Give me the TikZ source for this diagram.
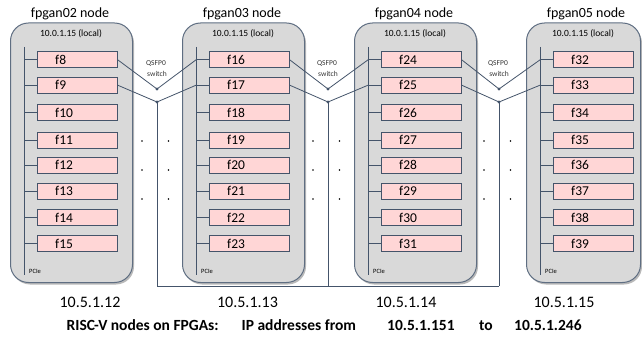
\documentclass[tikz,border=0pt]{standalone}
\usepackage{fontspec}
\setmainfont{Carlito}
\usetikzlibrary{shapes.misc,shadows}
\definecolor{nodefill}{RGB}{217,217,217}
\definecolor{nodeline}{RGB}{95,110,130}
\definecolor{boxfill}{RGB}{255,214,214}
\definecolor{boxline}{RGB}{68,84,106}
\definecolor{wirecol}{RGB}{68,84,106}
\begin{document}
\begin{tikzpicture}[x=1pt,y=-1pt,
  hostnode/.style={draw=nodeline, line width=1pt, fill=nodefill, rounded corners=18pt, inner sep=0pt,
    drop shadow={shadow xshift=1.5pt, shadow yshift=-2pt, opacity=0.5, fill=black!55}},
  fbox/.style={chamfered rectangle, chamfered rectangle corners=south west, chamfered rectangle xsep=4pt,
    draw=boxline, line width=0.6pt, fill=boxfill, minimum width=80pt, minimum height=16pt, inner sep=0pt},
  boxtext/.style={font=\fontsize{13.5}{15}\selectfont, inner sep=0pt, anchor=base west},
  titletext/.style={font=\fontsize{14}{16}\selectfont, inner sep=0pt, anchor=base},
  localtext/.style={font=\fontsize{9.5}{11}\selectfont, inner sep=0pt},
  pcietext/.style={font=\fontsize{6.5}{8}\selectfont, inner sep=0pt, anchor=base west},
  iptext/.style={font=\fontsize{16}{18}\selectfont, inner sep=0pt, anchor=base},
  swtext/.style={font=\fontsize{7.5}{9}\selectfont, inner sep=0pt, text=black!80},
  bottomtext/.style={font=\bfseries\fontsize{15.5}{18}\selectfont, inner sep=0pt, anchor=base west},
  wire/.style={draw=wirecol, line width=0.8pt},
  sdot/.style={circle, fill=wirecol, inner sep=0pt, minimum size=3.2pt},
]
\useasboundingbox (0,0) rectangle (642,339);

% bottom interconnect (behind the hosts)
\foreach \s/\x in {0/157,1/328,2/499} {
  \coordinate (bot\s) at (\x,286);
}
\draw[wire] (bot0) -- (bot2);

% hosts
\foreach \i/\L/\W/\name/\first/\ipx/\ipn in {0/10/122/fpgan02/8/90/12, 1/182/122/fpgan03/16/247.5/13, 2/354/122/fpgan04/24/406/14, 3/526/114/fpgan05/32/564/15} {
  \node[hostnode, minimum width=\W pt, minimum height=259.5pt, anchor=north west] (h\i) at (\L,22.5) {};
  \node[titletext] (title\i) at (\L+60,17.5) {\name{} node};
  \node[localtext] (local\i) at (\L+\W/2,33.5) {10.0.1.15 (local)};
  \coordinate (bustop\i) at (\L+14.5,47);
  \coordinate (busbot\i) at (\L+14.5,275);
  \draw[wire] (bustop\i) -- (busbot\i);
  \node[pcietext] (pcie\i) at (\L+19,273.5) {PCIe};
  \node[iptext] (ip\i) at (\ipx,307.5) {10.5.1.\ipn};
  \foreach \r [count=\k from 0] in {59.5,85,112.5,140,165,191,217.5,243} {
    \pgfmathtruncatemacro\num{\first+\k}
    \node[fbox] (b\i-\k) at (\L+67,\r) {};
    \coordinate (bus\i-\k) at (\L+14.5,\r);
    \draw[wire] (bus\i-\k) -- (b\i-\k.west);
    \node[boxtext] (t\num) at (\L+45,\r+5) {f\num};
  }
}

% switches
\foreach \s/\x in {0/157,1/328,2/499} {
  \pgfmathtruncatemacro\nx{\s+1}
  \node[swtext] (q\s) at (\x-1,64) {QSFP0};
  \node[swtext] (sw\s) at (\x,74) {switch};
  \node[sdot] (up\s) at (\x,89) {};
  \node[sdot] (lo\s) at (\x,102) {};
  \draw[wire] (b\s-0.east) -- (up\s.center);
  \draw[wire] (b\s-1.east) -- (lo\s.center);
  \draw[wire] (up\s.center) -- (bus\nx-0);
  \draw[wire] (lo\s.center) -- (bus\nx-1);
  \draw[wire] (lo\s.center) -- (bot\s);
  \foreach \dx in {-15,11.5} {
    \foreach \y in {141,170,199} {
      \fill (\x+\dx,\y) circle (0.9pt);
    }
  }
}

% caption
\node[bottomtext] (c1) at (66.5,330) {RISC-V nodes on FPGAs:};
\node[bottomtext] (c2) at (241.5,330) {IP addresses from};
\node[bottomtext] (c3) at (387,330) {10.5.1.151};
\node[bottomtext] (c4) at (479,330) {to};
\node[bottomtext] (c5) at (514,330) {10.5.1.246};
\end{tikzpicture}
\end{document}
